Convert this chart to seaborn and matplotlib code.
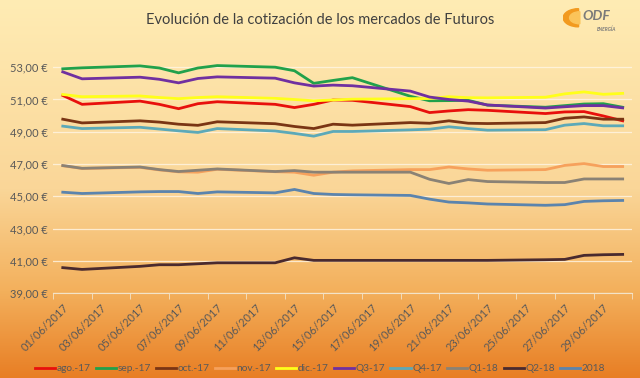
import numpy as np
import pandas as pd
import matplotlib
matplotlib.use("Agg")
import matplotlib.pyplot as plt
import matplotlib.dates as mdates
from matplotlib.ticker import FuncFormatter, FixedLocator
from matplotlib.patches import Wedge
import seaborn as sns

# trading days of June 2017
dias = [1, 2, 5, 6, 7, 8, 9, 12, 13, 14, 15, 16, 19, 20, 21, 22, 23, 26, 27, 28, 29, 30]
fechas = pd.to_datetime([f"2017-06-{d:02d}" for d in dias])

series = ["ago.-17", "sep.-17", "oct.-17", "nov.-17", "dic.-17",
          "Q3-17", "Q4-17", "Q1-18", "Q2-18", "2018"]

ago17 = [51.25, 50.70, 50.90, 50.70, 50.43, 50.74, 50.86, 50.70, 50.50, 50.70, 50.97,
         50.95, 50.56, 50.19, 50.29, 50.37, 50.33, 50.13, 50.23, 50.25, 49.98, 49.68]
sep17 = [52.90, 52.96, 53.08, 52.95, 52.65, 52.95, 53.10, 53.00, 52.78, 52.00, 52.18,
         52.35, 51.20, 50.92, 50.93, 50.95, 50.65, 50.52, 50.62, 50.72, 50.74, 50.52]
oct17 = [49.78, 49.55, 49.68, 49.60, 49.47, 49.40, 49.62, 49.50, 49.33, 49.20, 49.47,
         49.41, 49.57, 49.53, 49.68, 49.53, 49.51, 49.57, 49.84, 49.92, 49.78, 49.78]
nov17 = [46.90, 46.73, 46.80, 46.64, 46.52, 46.50, 46.68, 46.53, 46.50, 46.31, 46.50,
         46.58, 46.66, 46.66, 46.82, 46.70, 46.62, 46.66, 46.92, 47.03, 46.85, 46.85]
dic17 = [51.31, 51.17, 51.22, 51.12, 51.05, 51.12, 51.17, 51.07, 51.00, 50.92, 50.97,
         51.02, 51.05, 51.06, 51.17, 51.11, 51.10, 51.14, 51.35, 51.47, 51.32, 51.38]
q317 = [52.71, 52.28, 52.38, 52.25, 52.03, 52.30, 52.40, 52.32, 52.03, 51.83, 51.89,
        51.85, 51.52, 51.15, 51.00, 50.90, 50.66, 50.47, 50.55, 50.62, 50.62, 50.48]
q417 = [49.35, 49.20, 49.28, 49.17, 49.06, 48.96, 49.20, 49.05, 48.90, 48.73, 49.02,
        49.02, 49.12, 49.16, 49.31, 49.20, 49.10, 49.13, 49.41, 49.51, 49.37, 49.37]
q118 = [46.91, 46.74, 46.82, 46.66, 46.54, 46.62, 46.70, 46.54, 46.60, 46.50, 46.50,
        46.50, 46.50, 46.06, 45.80, 46.04, 45.92, 45.86, 45.86, 46.08, 46.08, 46.08]
q218 = [40.59, 40.48, 40.67, 40.77, 40.77, 40.83, 40.89, 40.89, 41.20, 41.04, 41.04,
        41.04, 41.04, 41.04, 41.04, 41.04, 41.04, 41.08, 41.10, 41.35, 41.39, 41.41]
y2018 = [45.26, 45.18, 45.28, 45.30, 45.30, 45.18, 45.28, 45.22, 45.43, 45.18, 45.12,
         45.10, 45.06, 44.83, 44.65, 44.60, 44.53, 44.45, 44.49, 44.69, 44.73, 44.75]

valores = [ago17, sep17, oct17, nov17, dic17, q317, q417, q118, q218, y2018]

colores = ["#E8100C", "#21A14B", "#7A3514", "#F6A15C", "#FFFF1A",
           "#7030A0", "#5CA9B8", "#8A8275", "#4A2A2E", "#5B84AD"]

df = pd.concat([pd.DataFrame({"fecha": fechas, "serie": s, "precio": v})
                for s, v in zip(series, valores)], ignore_index=True)

fig = plt.figure(figsize=(6.4, 3.78), dpi=100)

# background gradient (light yellow to orange)
bg = fig.add_axes([0, 0, 1, 1], zorder=-10)
stops_y = [0.0, 0.5, 0.77, 1.0]
stops_c = np.array([[255, 236, 180], [250, 214, 152], [243, 176, 92], [232, 126, 36]]) / 255
yy = np.linspace(0, 1, 400)
grad = np.stack([np.interp(yy, stops_y, stops_c[:, i]) for i in range(3)], axis=1)
bg.imshow(grad[:, None, :], aspect="auto", extent=[0, 1, 0, 1], origin="upper")
bg.set_axis_off()

plt.rcParams["font.family"] = ["Lato", "DejaVu Sans"]
txt = "#595959"

ax = fig.add_axes([0.083, 0.224, 0.905, 0.641])
ax.set_facecolor("none")
sns.lineplot(data=df, x="fecha", y="precio", hue="serie", hue_order=series,
             palette=dict(zip(series, colores)), linewidth=2.0, ax=ax)

ax.set_ylim(39, 54)
ax.yaxis.set_major_locator(FixedLocator(np.arange(39, 54, 2)))
ax.yaxis.set_major_formatter(FuncFormatter(lambda v, p: f"{v:.2f}".replace(".", ",") + " €"))
ax.grid(axis="y", color="#FFF6E6", linewidth=0.9, alpha=0.8)
ax.set_axisbelow(True)

x0 = pd.Timestamp("2017-05-31 12:00")
x1 = pd.Timestamp("2017-06-30 12:00")
ax.set_xlim(x0, x1)
ax.set_xticks(pd.date_range("2017-06-01", "2017-06-29", freq="2D"))
ax.xaxis.set_major_formatter(mdates.DateFormatter("%d/%m/%Y"))
ax.set_xticks(pd.date_range(x0, x1, freq="2D"), minor=True)
ax.tick_params(axis="x", which="major", length=0, pad=6, labelsize=8, colors=txt)
ax.tick_params(axis="x", which="minor", length=4, color="#F3E3C8")
ax.tick_params(axis="y", length=0, labelsize=8, colors=txt, pad=4)
for lab in ax.get_xticklabels():
    lab.set_rotation(45)
    lab.set_ha("right")
    lab.set_rotation_mode("anchor")

for s in ["top", "right", "left"]:
    ax.spines[s].set_visible(False)
ax.spines["bottom"].set_color("#F3E3C8")
ax.set_xlabel("")
ax.set_ylabel("")

sns.move_legend(ax, "center", bbox_to_anchor=(0.5, 0.025), bbox_transform=fig.transFigure,
                ncol=10, frameon=False, title=None, fontsize=7.3, handlelength=2.0,
                handletextpad=0.15, columnspacing=0.5, labelcolor=txt)

fig.text(0.5, 0.947, "Evolución de la cotización de los mercados de Futuros",
         ha="center", va="center", fontsize=10.5, color="#404040")

# small logo
logo = fig.add_axes([0.88, 0.905, 0.11, 0.09])
logo.set_xlim(0, 11)
logo.set_ylim(0, 9)
logo.set_axis_off()
logo.add_patch(Wedge((2.4, 4.8), 2.4, 90, 270, color="#F29A1F"))
logo.add_patch(Wedge((2.6, 4.8), 1.6, 90, 270, color="#FBC45A"))
logo.text(3.0, 5.2, "ODF", fontsize=10, fontweight="bold", fontstyle="italic",
          color="#7A7A7A", va="center", ha="left")
logo.text(5.2, 1.8, "ENERGÍA", fontsize=3.5, fontweight="bold", fontstyle="italic",
          color="#7A7A7A", va="center", ha="left")

fig.savefig("out.png", dpi=100)
